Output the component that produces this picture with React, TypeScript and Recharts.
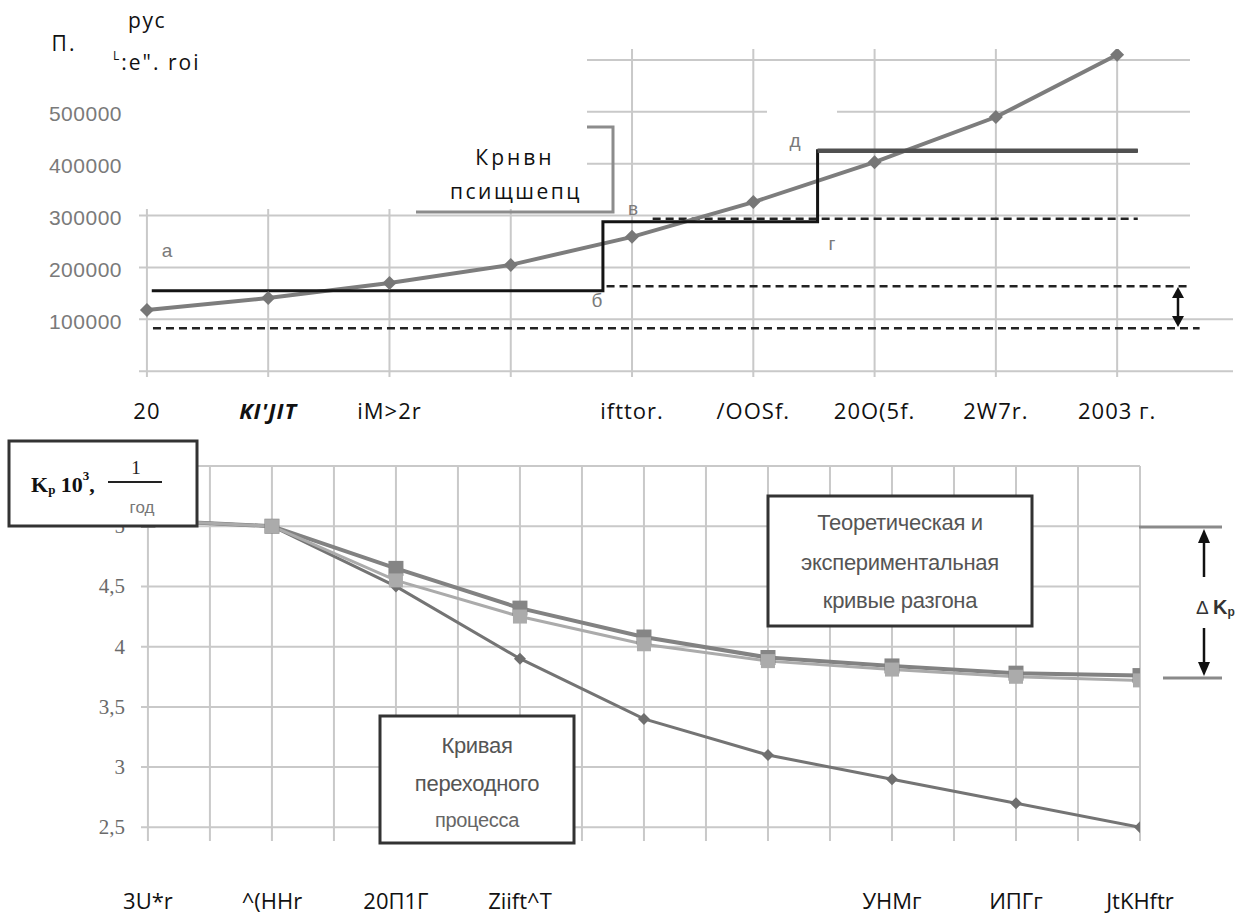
import React from 'react';
import { LineChart, Line, XAxis, YAxis, CartesianGrid } from 'recharts';

// ---------- top chart data ----------
const topIdx = [0, 1, 2, 3, 4, 5, 6, 7, 8];
const topLabels = ['20', "KI'JIT", 'iM>2r', '', 'ifttor.', '/OOSf.', '20O(5f.', '2W7r.', '2003 г.'];
const topValues = [118000, 141000, 170000, 205000, 259000, 326000, 403000, 490000, 610000];
const topYTicks = [0, 100000, 200000, 300000, 400000, 500000, 600000];
const stepX = [0.04, 3.76, 5.53, 8.17];
const stepY = [155000, 288000, 425000, 425000];
const upperStepX = [5.53, 8.17];
const upperStepY = [425000, 425000];
const dashLowX = [0.05, 8.68];
const dashLowY = [83000, 83000];
const dashMidX = [3.79, 8.59];
const dashMidY = [164000, 164000];
const dashHighX = [4.17, 8.17];
const dashHighY = [294000, 294000];

// ---------- bottom chart data ----------
const bottomIdx = [0, 1, 2, 3, 4, 5, 6, 7, 8];
const bottomLabels = ['3U*r', '^(HHr', '20П1Г', 'Ziift^T', '', '', 'УНМг', 'ИПГг', 'JtKHftr'];
const transition = [5.05, 5.0, 4.5, 3.9, 3.4, 3.1, 2.9, 2.7, 2.5];
const theoretical = [5.05, 5.0, 4.65, 4.32, 4.08, 3.91, 3.84, 3.78, 3.76];
const experimental = [5.05, 5.0, 4.55, 4.25, 4.02, 3.88, 3.81, 3.75, 3.72];
const bottomYTicks = [2.5, 3, 3.5, 4, 4.5, 5, 5.5];

const pts = (xs: number[], ys: number[]) => xs.map((x, i) => ({ x, v: ys[i] }));
const topData = pts(topIdx, topValues);
const stepData = pts(stepX, stepY);
const upperStepData = pts(upperStepX, upperStepY);
const dashLow = pts(dashLowX, dashLowY);
const dashMid = pts(dashMidX, dashMidY);
const dashHigh = pts(dashHighX, dashHighY);
const bottomData = bottomIdx.map((x, i) => ({
  x,
  tr: transition[i],
  th: theoretical[i],
  ex: experimental[i],
}));
const bottomXTicks = bottomIdx.flatMap((i) => (i < bottomIdx.length - 1 ? [i, i + 0.5] : [i]));

const diamond = (color: string, r: number) => (p: any) => {
  const { cx, cy, index } = p;
  if (cx == null || cy == null) return <g key={`d${index}`} />;
  return (
    <polygon
      key={`d${index}`}
      points={`${cx},${cy - r} ${cx + r},${cy} ${cx},${cy + r} ${cx - r},${cy}`}
      fill={color}
    />
  );
};
const square = (color: string, s: number) => (p: any) => {
  const { cx, cy, index } = p;
  if (cx == null || cy == null) return <g key={`s${index}`} />;
  return <rect key={`s${index}`} x={cx - s / 2} y={cy - s / 2} width={s} height={s} fill={color} />;
};

const TopYTick = (p: any) => {
  const v = p.payload.value;
  if (v <= 0 || v >= 600000) return <g />;
  return (
    <text x={p.x} y={p.y + 2} textAnchor="end" dominantBaseline="central" fill="#7a7a7a"
      fontFamily="'Liberation Sans', Arial, sans-serif" fontSize={21} letterSpacing={0.5}>
      {v}
    </text>
  );
};
const TopXTick = (p: any) => {
  const i = Math.round(p.payload.value);
  const lbl = topLabels[i] ?? '';
  return (
    <text x={p.x} y={p.y + 31} textAnchor="middle" dominantBaseline="central" fill="#111"
      fontFamily="'Open Sans', sans-serif" fontSize={22} letterSpacing={1}
      fontStyle={i === 1 ? 'italic' : 'normal'} fontWeight={i === 1 ? 700 : 400}>
      {lbl}
    </text>
  );
};
const BotYTick = (p: any) => {
  const v = p.payload.value;
  return (
    <text x={p.x} y={p.y} textAnchor="end" dominantBaseline="central" fill="#6a6a6a"
      fontFamily="'Liberation Serif', 'DejaVu Serif', serif" fontSize={21}>
      {String(v).replace('.', ',')}
    </text>
  );
};
const BotXTick = (p: any) => {
  const v = p.payload.value;
  if (!Number.isInteger(v)) return <g />;
  return (
    <text x={p.x} y={p.y + 57} textAnchor="middle" dominantBaseline="central" fill="#111"
      fontFamily="'Open Sans', sans-serif" fontSize={22}>
      {bottomLabels[v] ?? ''}
    </text>
  );
};

const gridColor = '#c9c9c9';
const sans = "'Open Sans', sans-serif";
const arial = "'Liberation Sans', Arial, sans-serif";

export default function App() {
  return (
    <div style={{ position: 'absolute', left: 0, top: 0, width: 1258, height: 921, background: '#fff', overflow: 'hidden' }}>
      <div style={{ position: 'absolute', left: 0, top: 0 }}>
        <LineChart width={1258} height={430} data={topData} margin={{ top: 47, right: 22, bottom: 0, left: 0 }}>
          <CartesianGrid stroke={gridColor} strokeWidth={2} />
          <XAxis dataKey="x" type="number" domain={[-0.09, 8.98]} ticks={topIdx} interval={0}
            allowDataOverflow tickSize={0} tickMargin={0} axisLine={false} tickLine={false} height={51} tick={<TopXTick />} />
          <YAxis type="number" domain={[-15000, 625000]} ticks={topYTicks} interval={0} allowDataOverflow
            width={136} tickSize={0} tickMargin={14} axisLine={false} tickLine={false} tick={<TopYTick />} />
          <Line data={dashLow} dataKey="v" stroke="#222" strokeWidth={2.5} strokeDasharray="8 5" dot={false} isAnimationActive={false} />
          <Line data={dashMid} dataKey="v" stroke="#222" strokeWidth={2.5} strokeDasharray="8 5" dot={false} isAnimationActive={false} />
          <Line data={dashHigh} dataKey="v" stroke="#222" strokeWidth={2.5} strokeDasharray="8 5" dot={false} isAnimationActive={false} />
          <Line data={topData} dataKey="v" stroke="#7d7d7d" strokeWidth={4} dot={diamond('#777', 7)} isAnimationActive={false} />
          <Line data={stepData} dataKey="v" type="stepAfter" stroke="#141414" strokeWidth={3} dot={false} isAnimationActive={false} />
          <Line data={upperStepData} dataKey="v" stroke="#505050" strokeWidth={4.5} dot={false} isAnimationActive={false} />
        </LineChart>
      </div>

      <div style={{ position: 'absolute', left: 0, top: 430 }}>
        <LineChart width={1258} height={491} data={bottomData} margin={{ top: 36, right: 118, bottom: 0, left: 0 }}>
          <CartesianGrid stroke={gridColor} strokeWidth={2} />
          <XAxis dataKey="x" type="number" domain={[-0.08, 8]} ticks={bottomXTicks} interval={0}
            allowDataOverflow tickSize={0} tickMargin={0} axisLine={false} tickLine={false} height={78} tick={<BotXTick />} />
          <YAxis type="number" domain={[2.37, 5.5]} ticks={bottomYTicks} interval={0} allowDataOverflow
            width={138} tickSize={0} tickMargin={13} axisLine={false} tickLine={false} tick={<BotYTick />} />
          <Line dataKey="tr" stroke="#747474" strokeWidth={3} dot={diamond('#6f6f6f', 6)} isAnimationActive={false} />
          <Line dataKey="th" stroke="#828282" strokeWidth={4} dot={square('#858585', 15)} isAnimationActive={false} />
          <Line dataKey="ex" stroke="#ababab" strokeWidth={3} dot={square('#ababab', 14)} isAnimationActive={false} />
        </LineChart>
      </div>

      <svg width={1258} height={921} style={{ position: 'absolute', left: 0, top: 0, pointerEvents: 'none' }}>
        {/* blank areas of the scanned grid, and plot-edge lines that the scan does not show */}
        <rect x={128} y={36} width={459} height={173} fill="#fff" />
        <rect x={1190} y={36} width={60} height={262} fill="#fff" />
        <rect x={767} y={104} width={70} height={10} fill="#fff" />
        <rect x={580} y={44} width={620} height={5} fill="#fff" />
        <rect x={133} y={200} width={6} height={184} fill="#fff" />
        <rect x={128} y={377} width={1120} height={6} fill="#fff" />
        <rect x={1233} y={290} width={10} height={95} fill="#fff" />
        <rect x={135} y={470} width={6} height={380} fill="#fff" />
        <rect x={130} y={841} width={1020} height={6} fill="#fff" />

        {/* top-left captions */}
        <text x={147} y={20} textAnchor="middle" dominantBaseline="central" fontFamily={sans} fontSize={21} letterSpacing={1.5} fill="#111">рус</text>
        <text x={64} y={43} textAnchor="middle" dominantBaseline="central" fontFamily={sans} fontSize={21} letterSpacing={2} fill="#111">П.</text>
        <text x={113} y={62} dominantBaseline="central" fontFamily={sans} fontSize={21} letterSpacing={2} fill="#111">
          <tspan fontSize={12} dy={-7}>L</tspan>
          <tspan dy={7}>:e". roi</tspan>
        </text>

        {/* bracket annotation */}
        <polyline points="587,127 613,127 613,212 416,212" fill="none" stroke="#8c8c8c" strokeWidth={3} />
        <text x={515} y={157} textAnchor="middle" dominantBaseline="central" fontFamily={sans} fontSize={21} letterSpacing={3} fill="#111">Крнвн</text>
        <text x={516} y={191} textAnchor="middle" dominantBaseline="central" fontFamily={sans} fontSize={21} letterSpacing={2.5} fill="#111">псищшепц</text>

        {/* point letters */}
        <text x={167} y={250} textAnchor="middle" dominantBaseline="central" fontFamily={arial} fontSize={19} fill="#7a7a7a">а</text>
        <text x={597} y={300} textAnchor="middle" dominantBaseline="central" fontFamily={arial} fontSize={19} fill="#7a7a7a">б</text>
        <text x={633} y={208} textAnchor="middle" dominantBaseline="central" fontFamily={arial} fontSize={19} fill="#7a7a7a">в</text>
        <text x={832} y={243} textAnchor="middle" dominantBaseline="central" fontFamily={arial} fontSize={19} fill="#7a7a7a">г</text>
        <text x={795} y={140} textAnchor="middle" dominantBaseline="central" fontFamily={arial} fontSize={19} fill="#7a7a7a">д</text>

        {/* double arrow top chart */}
        <line x1={1178} y1={294} x2={1178} y2={320} stroke="#111" strokeWidth={2.5} />
        <polygon points="1178,287 1172,298 1184,298" fill="#111" />
        <polygon points="1178,327 1172,316 1184,316" fill="#111" />

        {/* K_p box */}
        <rect x={9} y={441} width={188} height={85} fill="#fff" stroke="#333" strokeWidth={3} />
        <text x={31} y={484} dominantBaseline="central" fontFamily="'Liberation Serif', serif" fontWeight={700} fontSize={22} fill="#111">
          K<tspan fontSize={13} dy={5}>р</tspan><tspan dy={-5}> 10</tspan><tspan fontSize={13} dy={-9}>3</tspan><tspan dy={9}>,</tspan>
        </text>
        <line x1={108} y1={482} x2={162} y2={482} stroke="#222" strokeWidth={2} />
        <text x={136} y={467} textAnchor="middle" dominantBaseline="central" fontFamily="'Liberation Serif', serif" fontSize={19} fill="#222">1</text>
        <text x={142} y={507} textAnchor="middle" dominantBaseline="central" fontFamily={arial} fontSize={17} fill="#777">год</text>

        {/* theoretical / experimental box */}
        <rect x={768} y={496} width={264} height={130} fill="#fff" stroke="#333" strokeWidth={3} />
        <text x={900} y={522} textAnchor="middle" dominantBaseline="central" fontFamily={arial} fontSize={22} letterSpacing={-0.3} fill="#555">Теоретическая и</text>
        <text x={900} y={562} textAnchor="middle" dominantBaseline="central" fontFamily={arial} fontSize={22} letterSpacing={-0.3} fill="#555">экспериментальная</text>
        <text x={900} y={600} textAnchor="middle" dominantBaseline="central" fontFamily={arial} fontSize={22} letterSpacing={-0.3} fill="#555">кривые разгона</text>

        {/* transition box */}
        <rect x={380} y={716} width={194} height={127} fill="#fff" stroke="#333" strokeWidth={3} />
        <text x={477} y={745} textAnchor="middle" dominantBaseline="central" fontFamily={arial} fontSize={22} letterSpacing={-0.3} fill="#555">Кривая</text>
        <text x={477} y={783} textAnchor="middle" dominantBaseline="central" fontFamily={arial} fontSize={22} letterSpacing={-0.3} fill="#555">переходного</text>
        <text x={477} y={820} textAnchor="middle" dominantBaseline="central" fontFamily={arial} fontSize={20} letterSpacing={-0.3} fill="#666">процесса</text>

        {/* delta K annotation */}
        <line x1={1139} y1={527} x2={1222} y2={527} stroke="#8a8a8a" strokeWidth={3} />
        <line x1={1163} y1={678} x2={1222} y2={678} stroke="#8a8a8a" strokeWidth={3} />
        <line x1={1204} y1={540} x2={1204} y2={577} stroke="#111" strokeWidth={2.5} />
        <polygon points="1204,529 1198,543 1210,543" fill="#111" />
        <line x1={1204} y1={628} x2={1204} y2={665} stroke="#111" strokeWidth={2.5} />
        <polygon points="1204,676 1198,662 1210,662" fill="#111" />
        <text x={1196} y={607} dominantBaseline="central" fontFamily={arial} fontSize={19} fill="#333">
          Δ <tspan fontWeight={700} fontSize={20}>K</tspan><tspan fontSize={12} dy={5} fontWeight={700}>р</tspan>
        </text>
      </svg>
    </div>
  );
}
